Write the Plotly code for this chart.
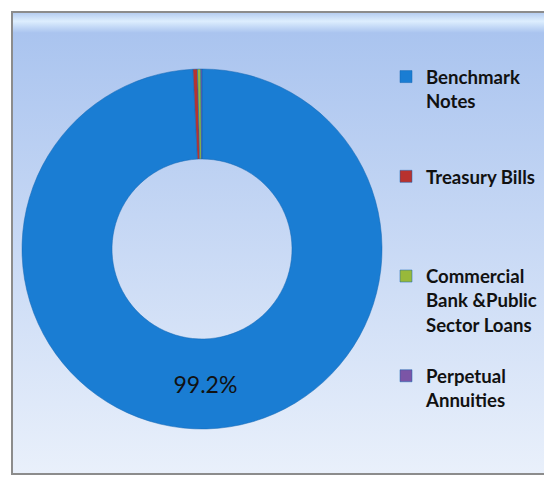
import base64

import plotly.graph_objects as go

# data
labels = [
    "Benchmark<br>Notes",
    "Treasury Bills",
    "Commercial<br>Bank &Public<br>Sector Loans",
    "Perpetual<br>Annuities",
]
values = [99.2, 0.4, 0.3, 0.1]
slice_text = ["99.2%", "", "", ""]
colors = ["#1a7dd3", "#b8322e", "#98b93a", "#7b55a6"]

# the page body adds an 8px margin, so the figure is 8px smaller each way
W, H = 544, 469

# pad every legend entry to the same number of lines so they are evenly spaced
nlines = 4
legend_labels = []
for lab in labels:
    n = lab.count("<br>") + 1
    legend_labels.append(lab + "<br>\u00a0" * (nlines - n))

# gradient for the chart area
svg = (
    '<svg xmlns="http://www.w3.org/2000/svg" width="100" height="100" preserveAspectRatio="none">'
    '<defs><linearGradient id="g" x1="0" y1="0" x2="0" y2="1">'
    '<stop offset="0" stop-color="#b2caf0"/>'
    '<stop offset="0.02" stop-color="#ddeefe"/>'
    '<stop offset="0.045" stop-color="#aac4ef"/>'
    '<stop offset="1" stop-color="#e9f0fb"/>'
    '</linearGradient></defs>'
    '<rect width="100" height="100" fill="url(#g)"/></svg>'
)
bg_src = "data:image/svg+xml;base64," + base64.b64encode(svg.encode()).decode()

fig = go.Figure()

fig.add_trace(go.Pie(
    labels=legend_labels,
    values=values,
    text=slice_text,
    textinfo="text",
    textposition="inside",
    insidetextorientation="horizontal",
    textfont=dict(family="Lato, sans-serif", size=23, color="#111111"),
    hole=0.5,
    sort=False,
    direction="clockwise",
    rotation=0,
    marker=dict(colors=colors, line=dict(color="#1466b3", width=0.5)),
    domain=dict(x=[14 / W, 374 / W], y=[48 / H, 408 / H]),
    hoverinfo="label+percent",
))

fig.update_layout(
    width=W,
    height=H,
    margin=dict(l=0, r=0, t=0, b=0),
    paper_bgcolor="white",
    plot_bgcolor="white",
    showlegend=True,
    legend=dict(
        x=378 / W, xanchor="left",
        y=1 - 50 / H, yanchor="top",
        valign="top",
        bgcolor="rgba(0,0,0,0)",
        font=dict(family="Lato, sans-serif", size=18.6, color="#111111", weight="bold"),
        itemwidth=30,
    ),
    images=[dict(
        source=bg_src,
        xref="paper", yref="paper",
        x=4 / W, y=1 - 4 / H,
        sizex=(539 - 4) / W, sizey=(466 - 4) / H,
        xanchor="left", yanchor="top",
        sizing="stretch",
        layer="below",
    )],
    shapes=[dict(
        type="rect", xref="paper", yref="paper",
        x0=4 / W, x1=539 / W, y0=1 - 466 / H, y1=1 - 4 / H,
        line=dict(color="#8c8c8c", width=2),
        layer="below",
    )],
)

fig.write_html("out.html")
